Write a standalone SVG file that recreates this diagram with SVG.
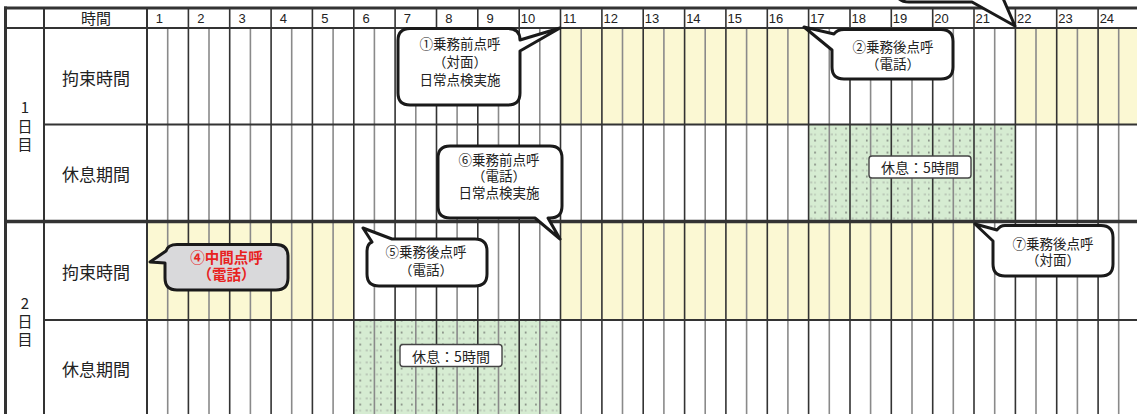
<svg xmlns="http://www.w3.org/2000/svg" width="1137" height="414" viewBox="0 0 1137 414">
<style>
.t{font-family:"Noto Sans CJK JP","Noto Sans",sans-serif;fill:#222;dominant-baseline:central;text-anchor:middle}
.n{font-family:"Liberation Sans",Arial,sans-serif;font-size:13px;fill:#222;text-anchor:end}
.hl{stroke:#333;stroke-width:1.6}
.qh{stroke:#8a8a8a;stroke-width:1.6}
.bl{stroke:#333;fill:none}
.co{fill:#fff;stroke:#1a1a1a;stroke-width:3;stroke-linejoin:round}
.ct{font-size:13.5px}
.rest{fill:#fff;stroke:#444;stroke-width:1.4}
</style>
<defs>
<pattern id="dots" patternUnits="userSpaceOnUse" width="10.3375" height="12" x="808.6" y="124.5">
<rect width="10.3375" height="12" fill="#d6ecd2"/>
<circle cx="6.5" cy="4" r="0.85" fill="#555"/>
<rect x="1.5" y="9.6" width="2.2" height="0.7" fill="#888"/>
<circle cx="6.5" cy="10" r="0.6" fill="#777"/>
</pattern>
</defs>
<rect width="1137" height="414" fill="#fff"/>
<g id="fills">
<rect x="560.5" y="28" width="248.1" height="96.5" fill="#fbf8d3"/>
<rect x="1015.35" y="28" width="122" height="96.5" fill="#fbf8d3"/>
<rect x="147" y="221.5" width="206.75" height="98.5" fill="#fbf8d3"/>
<rect x="560.5" y="221.5" width="413.5" height="98.5" fill="#fbf8d3"/>
<rect x="808.6" y="124.5" width="206.75" height="97" fill="url(#dots)"/>
<rect x="353.75" y="320" width="206.75" height="94" fill="url(#dots)"/>
</g>
<g id="grid">
<g class="qh">
<line x1="167.7" y1="28" x2="167.7" y2="414"/><line x1="209.0" y1="28" x2="209.0" y2="414"/><line x1="250.4" y1="28" x2="250.4" y2="414"/><line x1="291.7" y1="28" x2="291.7" y2="414"/><line x1="333.1" y1="28" x2="333.1" y2="414"/><line x1="374.4" y1="28" x2="374.4" y2="414"/><line x1="415.8" y1="28" x2="415.8" y2="414"/><line x1="457.1" y1="28" x2="457.1" y2="414"/><line x1="498.5" y1="28" x2="498.5" y2="414"/><line x1="539.8" y1="28" x2="539.8" y2="414"/><line x1="581.2" y1="28" x2="581.2" y2="414"/><line x1="622.5" y1="28" x2="622.5" y2="414"/><line x1="663.9" y1="28" x2="663.9" y2="414"/><line x1="705.2" y1="28" x2="705.2" y2="414"/><line x1="746.6" y1="28" x2="746.6" y2="414"/><line x1="787.9" y1="28" x2="787.9" y2="414"/><line x1="829.3" y1="28" x2="829.3" y2="414"/><line x1="870.6" y1="28" x2="870.6" y2="414"/><line x1="912.0" y1="28" x2="912.0" y2="414"/><line x1="953.3" y1="28" x2="953.3" y2="414"/><line x1="994.7" y1="28" x2="994.7" y2="414"/><line x1="1036.0" y1="28" x2="1036.0" y2="414"/><line x1="1077.4" y1="28" x2="1077.4" y2="414"/><line x1="1118.7" y1="28" x2="1118.7" y2="414"/>
</g>
<g class="hl">
<line x1="188.4" y1="8" x2="188.4" y2="414"/><line x1="229.7" y1="8" x2="229.7" y2="414"/><line x1="271.1" y1="8" x2="271.1" y2="414"/><line x1="312.4" y1="8" x2="312.4" y2="414"/><line x1="353.8" y1="8" x2="353.8" y2="414"/><line x1="395.1" y1="8" x2="395.1" y2="414"/><line x1="436.5" y1="8" x2="436.5" y2="414"/><line x1="477.8" y1="8" x2="477.8" y2="414"/><line x1="519.2" y1="8" x2="519.2" y2="414"/><line x1="560.5" y1="8" x2="560.5" y2="414"/><line x1="601.9" y1="8" x2="601.9" y2="414"/><line x1="643.2" y1="8" x2="643.2" y2="414"/><line x1="684.6" y1="8" x2="684.6" y2="414"/><line x1="725.9" y1="8" x2="725.9" y2="414"/><line x1="767.3" y1="8" x2="767.3" y2="414"/><line x1="808.6" y1="8" x2="808.6" y2="414"/><line x1="850.0" y1="8" x2="850.0" y2="414"/><line x1="891.3" y1="8" x2="891.3" y2="414"/><line x1="932.7" y1="8" x2="932.7" y2="414"/><line x1="974.0" y1="8" x2="974.0" y2="414"/><line x1="1015.4" y1="8" x2="1015.4" y2="414"/><line x1="1056.7" y1="8" x2="1056.7" y2="414"/><line x1="1098.1" y1="8" x2="1098.1" y2="414"/>
</g>
<line class="bl" x1="147" y1="8" x2="147" y2="414" stroke-width="2"/>
<line class="bl" x1="44" y1="8" x2="44" y2="414" stroke-width="2"/>
<line class="bl" x1="5.5" y1="6.5" x2="5.5" y2="414" stroke-width="3"/>
<line class="bl" x1="4" y1="8" x2="1137" y2="8" stroke-width="3"/>
<line class="bl" x1="5" y1="28" x2="1137" y2="28" stroke-width="2"/>
<line class="bl" x1="44" y1="124.5" x2="1137" y2="124.5" stroke-width="2"/>
<line class="bl" x1="4" y1="221.5" x2="1137" y2="221.5" stroke-width="3.5" stroke="#222"/>
<line class="bl" x1="44" y1="320" x2="1137" y2="320" stroke-width="2"/>
</g>
<g id="header">
<text class="t" x="96" y="17.5" font-size="15">時間</text>
<text class="n" x="163" y="23">1</text><text class="n" x="204.4" y="23">2</text><text class="n" x="245.7" y="23">3</text><text class="n" x="287" y="23">4</text><text class="n" x="328.4" y="23">5</text><text class="n" x="369.8" y="23">6</text><text class="n" x="411.1" y="23">7</text><text class="n" x="452.5" y="23">8</text><text class="n" x="493.8" y="23">9</text><text class="n" x="535.2" y="23">10</text><text class="n" x="576.5" y="23">11</text><text class="n" x="617.9" y="23">12</text><text class="n" x="659.2" y="23">13</text><text class="n" x="700.6" y="23">14</text><text class="n" x="741.9" y="23">15</text><text class="n" x="783.3" y="23">16</text><text class="n" x="824.6" y="23">17</text><text class="n" x="866" y="23">18</text><text class="n" x="907.3" y="23">19</text><text class="n" x="948.7" y="23">20</text><text class="n" x="990" y="23">21</text><text class="n" x="1031.4" y="23">22</text><text class="n" x="1072.7" y="23">23</text><text class="n" x="1114.1" y="23">24</text>
</g>
<g id="day1-label">
<text class="t" x="25" y="106" font-size="15">1</text>
<text class="t" x="25" y="125" font-size="15">日</text>
<text class="t" x="25" y="143" font-size="15">目</text>
</g>
<g id="day2-label">
<text class="t" x="25" y="302" font-size="15">2</text>
<text class="t" x="25" y="320" font-size="15">日</text>
<text class="t" x="25" y="338" font-size="15">目</text>
</g>
<g id="row-labels">
<text class="t" x="96" y="77" font-size="17">拘束時間</text>
<text class="t" x="96" y="173" font-size="17">休息期間</text>
<text class="t" x="96" y="271" font-size="17">拘束時間</text>
<text class="t" x="96" y="368" font-size="17">休息期間</text>
</g>
<g id="rest1">
<rect class="rest" x="869" y="156" width="102" height="22" rx="3"/>
<text class="t" x="920" y="167" font-size="14">休息：5時間</text>
</g>
<g id="rest2">
<rect class="rest" x="400" y="344.5" width="102" height="22" rx="3"/>
<text class="t" x="451" y="355.5" font-size="14">休息：5時間</text>
</g>
<g id="callout3">
<path class="co" d="M 894,-12 Q 896,2 909,2 H 972 L 1015,26 L 1002,-4"/>
</g>
<g id="callout1">
<path class="co" d="M 410,28.5 H 508 Q 520,28.5 520,40 L 560,28 L 520,51 V 93 Q 520,105 508,105 H 410 Q 398,105 398,93 V 40.5 Q 398,28.5 410,28.5 Z"/>
<text class="t ct" x="460" y="43">①乗務前点呼</text>
<text class="t ct" x="460" y="61">（対面）</text>
<text class="t ct" x="460" y="79">日常点検実施</text>
</g>
<g id="callout2">
<path class="co" d="M 844,29.5 H 941 Q 953,29.5 953,41.5 V 67 Q 953,79 941,79 H 844 Q 832,79 832,67 V 50 L 804,27 L 834,34 Q 837,29.5 844,29.5 Z"/>
<text class="t ct" x="893" y="46">②乗務後点呼</text>
<text class="t ct" x="893" y="63">（電話）</text>
</g>
<g id="callout6">
<path class="co" d="M 450,146 H 550 Q 562,146 562,158 V 206 Q 562,218 550,218 H 548 L 560,239 L 535,218 H 450 Q 438,218 438,206 V 158 Q 438,146 450,146 Z"/>
<text class="t ct" x="499" y="158.5">⑥乗務前点呼</text>
<text class="t ct" x="499" y="175">（電話）</text>
<text class="t ct" x="499" y="191.5">日常点検実施</text>
</g>
<g id="callout4">
<path class="co" style="fill:#d9d9db" d="M 177,244.5 H 276 Q 288,244.5 288,256.5 V 278 Q 288,290 276,290 H 177 Q 165,290 165,278 V 263 L 150,262 L 166,251 Q 168,244.5 177,244.5 Z"/>
<text class="t" x="226.5" y="256" font-size="14.5" font-weight="bold" style="fill:#e8231f">④中間点呼</text>
<text class="t" x="226.5" y="273" font-size="14.5" font-weight="bold" style="fill:#e8231f">（電話）</text>
</g>
<g id="callout5">
<path class="co" d="M 392,239 H 475 Q 487,239 487,251 V 274 Q 487,286 475,286 H 379 Q 367,286 367,274 V 251 Q 367,244 372,242 L 363,228 Z"/>
<text class="t ct" x="426" y="251">⑤乗務後点呼</text>
<text class="t ct" x="426" y="268.5">（電話）</text>
</g>
<g id="callout7">
<path class="co" d="M 1005,225.5 H 1101 Q 1113,225.5 1113,237.5 V 264 Q 1113,276 1101,276 H 1005 Q 993,276 993,264 V 241 L 975,224 L 997,230 Q 1000,225.5 1005,225.5 Z"/>
<text class="t ct" x="1053" y="242.5">⑦乗務後点呼</text>
<text class="t ct" x="1053" y="259">（対面）</text>
</g>
<g id="connectors"/>
</svg>
